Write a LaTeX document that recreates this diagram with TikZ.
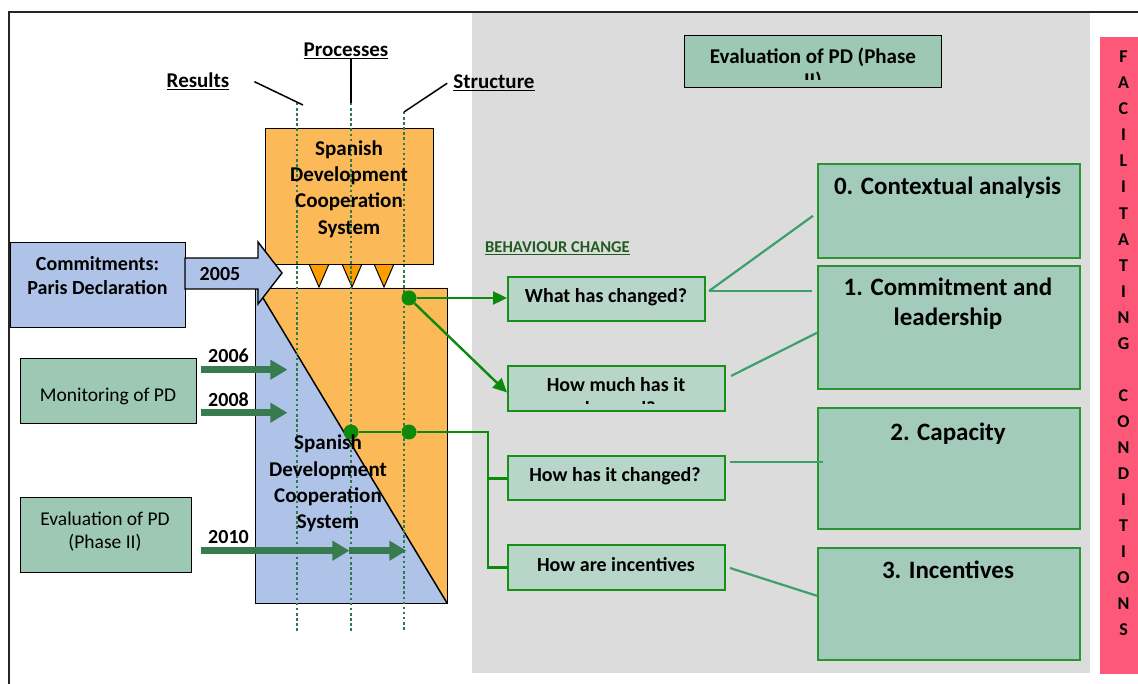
\documentclass[tikz,border=0pt]{standalone}
\usepackage{fontspec}
\setmainfont{Carlito}
\usetikzlibrary{arrows.meta,calc}
\definecolor{bggray}{HTML}{DCDCDC}
\definecolor{pinkbar}{HTML}{FD5878}
\definecolor{sysblue}{HTML}{AFC3E9}
\definecolor{sysorange}{HTML}{FBB957}
\definecolor{triorange}{HTML}{FF9C00}
\definecolor{boxgreen}{HTML}{9CC8B4}
\definecolor{qfill}{HTML}{B7D5C8}
\definecolor{qborder}{HTML}{179017}
\definecolor{cfill}{HTML}{A3CBBB}
\definecolor{cborder}{HTML}{2A952F}
\definecolor{dotgreen}{HTML}{2F7A4A}
\definecolor{arrowgreen}{HTML}{377B4E}
\definecolor{linkgreen}{HTML}{0B8A0B}
\definecolor{connteal}{HTML}{3C9F6E}
\definecolor{headgreen}{HTML}{1F5C1F}
\begin{document}
\begin{tikzpicture}[x=1pt,y=-1pt,
  every node/.style={inner sep=0pt},
  boldtwenty/.style={font=\bfseries\fontsize{20}{24.5}\selectfont, align=center},
  boldbig/.style={font=\bfseries\fontsize{21}{26.3}\selectfont, align=center},
  regtwenty/.style={font=\fontsize{19.5}{23}\selectfont, align=center},
  headtxt/.style={font=\bfseries\fontsize{25}{30}\selectfont, align=center},
  panel/.style={draw=black, line width=1.4pt, anchor=north west},
  qpanel/.style={draw=qborder, fill=qfill, line width=2pt, anchor=north west},
  cpanel/.style={draw=cborder, fill=cfill, line width=1.6pt, anchor=north west},
  guide/.style={dotgreen, line width=2.6pt, dash pattern=on 2.5pt off 2.6pt},
  pointer/.style={black, line width=1.5pt},
  timearrow/.style={arrowgreen, line width=6.5pt, -{Triangle[length=17pt,width=19pt]}},
  link/.style={linkgreen, line width=2.4pt},
  linkarrow/.style={link, -{Triangle[length=14pt,width=13pt]}},
  conn/.style={connteal, line width=2.2pt},
  gdot/.style={circle, fill=linkgreen, minimum size=15pt},
]
\useasboundingbox (0,0) rectangle (1138,684);
\fill[white] (0,0) rectangle (1138,684);
% background regions
\fill[bggray] (472,12) rectangle (1090,673);
\fill[pinkbar] (1100,37) rectangle (1138,674);
\draw[line width=2pt, black!85] (9,684) -- (9,12) -- (1138,12);

% lower system box split diagonally
\fill[sysblue] (255,288) rectangle (447,603);
\fill[sysorange] (257,288) -- (447,288) -- (447,603) -- cycle;
\draw[line width=1.5pt] (257,288) -- (447,603);
\node[panel, minimum width=192pt, minimum height=315pt] (sys) at (255,288) {};

% small triangles and upper box
\foreach \t in {319,352,384}
  \filldraw[fill=triorange, draw=black, line width=1pt] (\t-10,264) -- (\t+10,264) -- (\t,287) -- cycle;
\node[panel, fill=sysorange, minimum width=168pt, minimum height=136pt] (topsys) at (265,128) {};

% commitments and 2005 block arrow
\node[panel, fill=sysblue, minimum width=175pt, minimum height=85pt] (commit) at (10,242) {};
\filldraw[fill=sysblue, draw=black, line width=1.4pt]
  (185,258) -- (258,258) -- (258,242) -- (282,273) -- (258,304) -- (258,289) -- (185,289) -- cycle;

% left green boxes
\node[panel, fill=boxgreen, minimum width=176pt, minimum height=65pt] (mon) at (20,358) {};
\node[panel, fill=boxgreen, minimum width=171pt, minimum height=75pt] (evtwo) at (20,497) {};
\node[panel, fill=boxgreen, minimum width=257pt, minimum height=52pt] (evtop) at (684,35) {};

% question boxes
\node[qpanel, minimum width=197pt, minimum height=44pt] (q1) at (507,276) {};
\node[qpanel, minimum width=217pt, minimum height=45pt] (q2) at (507,365) {};
\node[qpanel, minimum width=217pt, minimum height=44pt] (q3) at (507,455) {};
\node[qpanel, minimum width=217pt, minimum height=45pt] (q4) at (507,544) {};

% condition boxes
\node[cpanel, minimum width=262pt, minimum height=94pt] (c0) at (817,163) {};
\node[cpanel, minimum width=262pt, minimum height=123pt] (c1) at (817,265) {};
\node[cpanel, minimum width=262pt, minimum height=121pt] (c2) at (817,407) {};
\node[cpanel, minimum width=262pt, minimum height=112pt] (c3) at (817,547) {};

% time arrows
\draw[timearrow] ($(mon.east)+(4,-21.5)$) -- ++(86,0);
\draw[timearrow] ($(mon.east)+(4,21.5)$) -- ++(86,0);
\coordinate (m10) at ($(evtwo.east)+(157,15.5)$);
\draw[timearrow] ($(evtwo.east)+(9,15.5)$) -- (m10);
\draw[timearrow] (m10) -- ++(57,0);

% dotted guides
\coordinate (rtop) at (297,103); \coordinate (rbot) at (297,632);
\coordinate (ptop) at (351,103); \coordinate (pbot) at (351,632);
\coordinate (stop) at (404,112); \coordinate (sbot) at (404,632);
\draw[guide] (rtop) -- (rbot);
\draw[guide] (ptop) -- (pbot);
\draw[guide] (stop) -- (sbot);

% labels on top
\node[boldbig, anchor=base] (results) at (198,88) {\underline{Results}};
\node[boldbig, anchor=base] (processes) at (346,57) {\underline{Processes}};
\node[boldbig, anchor=base] (structure) at (494,89) {\underline{Structure}};
\draw[pointer] ($(results.east)+(25,0)$) -- ($(rtop)+(6,2)$);
\draw[pointer] (processes.south -| ptop) -- (ptop);
\draw[pointer] ($(structure.west)+(-6,0)$) -- (stop);

% green links
\node[gdot] (d1) at (409,298) {};
\node[gdot] (d2) at (351,432) {};
\node[gdot] (d3) at (409,432) {};
\coordinate (bus) at (488,432);
\draw[linkarrow] (d1) -- (d1 -| q1.west);
\draw[linkarrow] (d1) -- ([yshift=-4pt]q2.west);
\draw[link] (d2) -- (d3) -- (bus) -- (bus |- q4.west) -- (q4.west);
\draw[link, line width=3pt] (bus |- q3.west) -- (q3.west);

% connectors to conditions
\draw[conn] ($(q1.east)+(3,-8)$) -- ($(c0.west)+(-4,5)$);
\draw[conn] ($(q1.east)+(3,-8)$) -- ($(c1.west |- q1.east)+(-5,-8)$);
\draw[conn] ($(q2.east)+(5,-12.5)$) -- ($(c1.west)+(0,5.5)$);
\draw[conn] ($(q3.east)+(4,-16)$) -- ($(c2.west |- q3.east)+(6,-16)$);
\draw[conn] ($(q4.east)+(4,0.5)$) -- ($(c3.west)+(0,-8)$);

% texts
\node[boldbig] (topsystxt) at (349,189) {Spanish\\Development\\Cooperation\\System};
\node[boldbig] (lowsystxt) at (328,483.5) {Spanish\\Development\\Cooperation\\System};
\node[boldtwenty] (committxt) at (97.5,275.5) {Commitments:\\Paris Declaration};
\node[boldtwenty, anchor=base] (y2005) at (220,281) {2005};
\node[boldtwenty, anchor=base] (y2006) at (228.5,363) {2006};
\node[boldtwenty, anchor=base] (y2008) at (228.5,406.5) {2008};
\node[boldtwenty, anchor=base] (y2010) at (228.5,543) {2010};
\node[regtwenty, anchor=base] (montxt) at (108,402) {Monitoring of PD};
\node[regtwenty] (evtwotxt) at (105,532) {Evaluation of PD\\(Phase II)};
\begin{scope}
  \clip (684,35) rectangle (941,80);
  \node[boldbig, anchor=base] (evtoptxt) at (813,63.5) {Evaluation of PD (Phase};
  \node[boldbig, anchor=base] (evtoptxtb) at (813,88) {II)};
\end{scope}
\node[font=\bfseries\fontsize{16.5}{20}\selectfont, text=headgreen, anchor=base] (behav) at (557.5,252.5) {\underline{BEHAVIOUR CHANGE}};
\node[boldtwenty, anchor=base] (q1txt) at (606,302.5) {What has changed?};
\begin{scope}
  \clip (507,365) rectangle (724,404);
  \node[boldtwenty, anchor=base] (q2txt) at (616,391.5) {How much has it};
  \node[boldtwenty, anchor=base] (q2txtb) at (616,416) {changed?};
\end{scope}
\node[boldtwenty, anchor=base] (q3txt) at (615,481.5) {How has it changed?};
\node[boldtwenty, anchor=base] (q4txt) at (616,571.5) {How are incentives};
\node[headtxt, anchor=base] (c0txt) at (947.5,195) {0. Contextual analysis};
\node[headtxt] (c1txt) at (948,304) {1. Commitment and\\leadership};
\node[headtxt, anchor=base] (c2txt) at (948,440) {2. Capacity};
\node[headtxt, anchor=base] (c3txt) at (948,578) {3. Incentives};
\node[font=\bfseries\fontsize{18}{26.05}\selectfont, align=center] (facil) at (1123.5,343.5)
  {F\\A\\C\\I\\L\\I\\T\\A\\T\\I\\N\\G\\[26.05pt]C\\O\\N\\D\\I\\T\\I\\O\\N\\S};
\end{tikzpicture}
\end{document}
